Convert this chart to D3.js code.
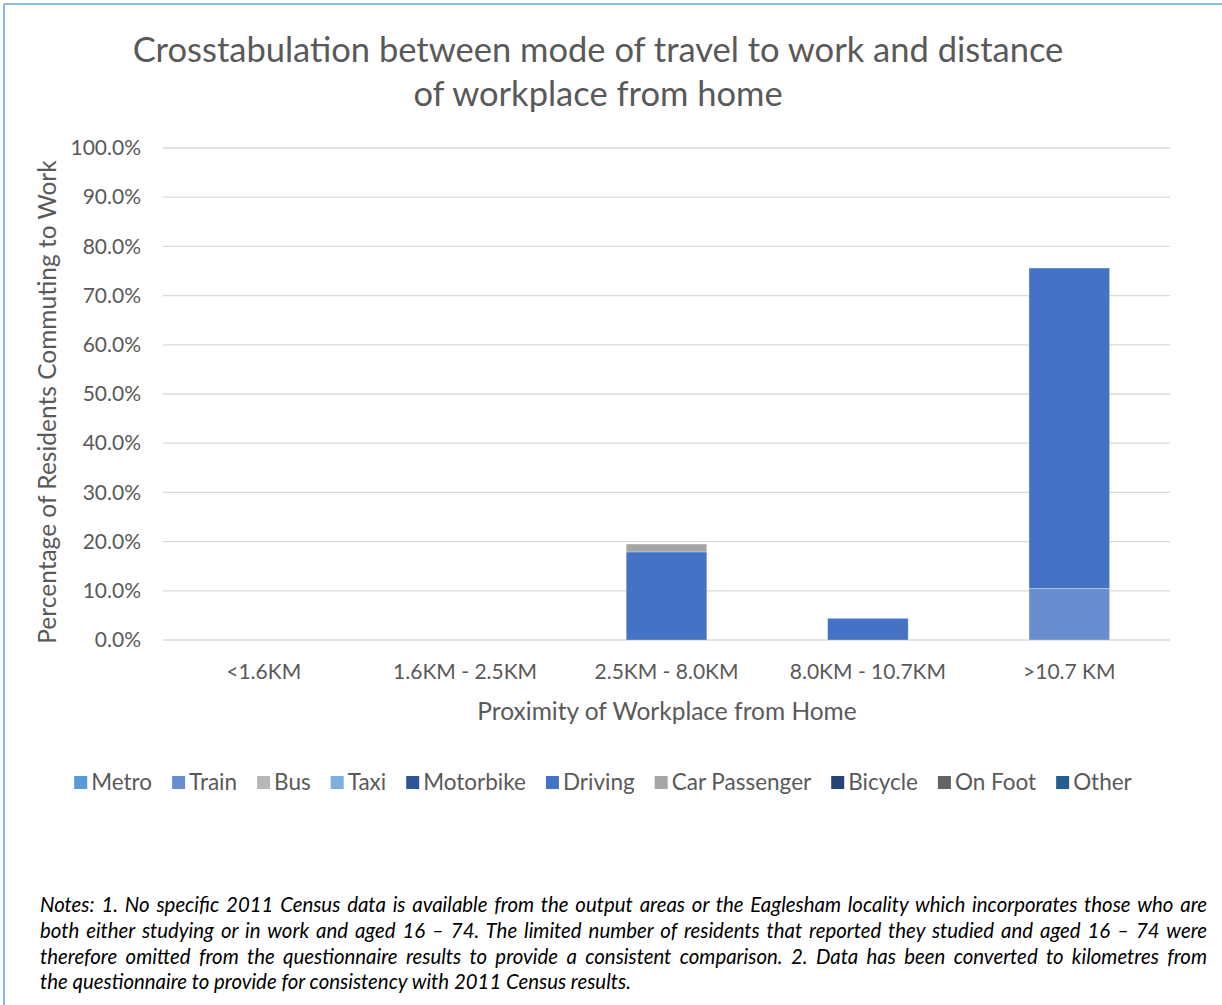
<!DOCTYPE html>
<html>
<head>
<meta charset="utf-8">
<script src="https://cdn.jsdelivr.net/npm/d3@7"></script>
<style>
  html, body { margin: 0; padding: 0; background: #fff; }
  #wrap { position: relative; width: 1222px; height: 1005px; overflow: hidden; }
  svg { position: absolute; left: 0; top: 0; }
  #notes { position: absolute; left: 40px; top: 892px; width: 1167px;
           font-family: Lato, "Open Sans", sans-serif; font-style: italic;
           font-size: 20.4px; color: #000; }
  #notes div { height: 25.8px; line-height: 25.8px; white-space: nowrap; text-align: left; }
  #notes div.j { text-align: justify; text-align-last: justify; }
</style>
</head>
<body>
<div id="wrap"></div>
<script>
// Distance bands and travel modes
const categories = ["<1.6KM", "1.6KM - 2.5KM", "2.5KM - 8.0KM", "8.0KM - 10.7KM", ">10.7 KM"];
const modes = ["Metro", "Train", "Bus", "Taxi", "Motorbike", "Driving", "Car Passenger", "Bicycle", "On Foot", "Other"];
const modeColors = ["#5B9BD5", "#698ED0", "#B7B7B7", "#7CAFDD", "#2F5597", "#4472C4", "#A5A5A5", "#264478", "#636363", "#255E91"];

// Percentage of residents per mode, one value per distance band
const metro        = [0, 0, 0, 0, 0];
const train        = [0, 0, 0, 0, 10.5];
const bus          = [0, 0, 0, 0, 0];
const taxi         = [0, 0, 0, 0, 0];
const motorbike    = [0, 0, 0, 0, 0];
const driving      = [0, 0, 17.9, 4.4, 65.1];
const carPassenger = [0, 0, 1.6, 0, 0];
const bicycle      = [0, 0, 0, 0, 0];
const onFoot       = [0, 0, 0, 0, 0];
const other        = [0, 0, 0, 0, 0];

const yTicks = [0, 10, 20, 30, 40, 50, 60, 70, 80, 90, 100];

const titleLines = ["Crosstabulation between mode of travel to work and distance", "of workplace from home"];
const noteLines = [
  "Notes: 1. No specific 2011 Census data is available from the output areas or the Eaglesham locality which incorporates those who are",
  "both either studying or in work and aged 16 \u2013 74. The limited number of residents that reported they studied and aged 16 \u2013 74 were",
  "therefore omitted from the questionnaire results to provide a consistent comparison. 2. Data has been converted to kilometres from",
  "the questionnaire to provide for consistency with 2011 Census results."
];

const seriesValues = [metro, train, bus, taxi, motorbike, driving, carPassenger, bicycle, onFoot, other];
const table = categories.map((c, i) => {
  const row = { category: c };
  modes.forEach((m, k) => { row[m] = seriesValues[k][i]; });
  return row;
});

const W = 1222, H = 1005;
const font = "Lato, 'Open Sans', sans-serif";
const textGrey = "#595959";

const wrap = d3.select("#wrap");
const svg = wrap.append("svg").attr("width", W).attr("height", H);

// chart frame (top and left edges visible)
svg.append("line").attr("x1", 4).attr("y1", 4).attr("x2", W).attr("y2", 4)
  .attr("stroke", "#6FA8DC").attr("stroke-width", 1.6);
svg.append("line").attr("x1", 4).attr("y1", 4).attr("x2", 4).attr("y2", H)
  .attr("stroke", "#6FA8DC").attr("stroke-width", 1.6);

const plot = { left: 163, right: 1170, top: 148, bottom: 640 };

const x = d3.scaleBand().domain(categories).range([plot.left, plot.right])
  .paddingInner(0.6).paddingOuter(0.3);
const y = d3.scaleLinear().domain([0, 100]).range([plot.bottom, plot.top]);

// gridlines
svg.append("g").selectAll("line").data(yTicks).join("line")
  .attr("x1", plot.left).attr("x2", plot.right)
  .attr("y1", d => y(d)).attr("y2", d => y(d))
  .attr("stroke", "#D9D9D9").attr("stroke-width", 1.3);

// y axis labels
const yAxis = d3.axisLeft(y).tickValues(yTicks).tickFormat(d => d3.format(".1f")(d) + "%").tickSize(0).tickPadding(22);
const gy = svg.append("g").attr("transform", `translate(${plot.left},0)`).call(yAxis);
gy.select(".domain").remove();
gy.selectAll("text").attr("font-family", font).attr("font-size", 21).attr("fill", textGrey);

// x axis labels
const xAxis = d3.axisBottom(x).tickSize(0).tickPadding(24);
const gx = svg.append("g").attr("transform", `translate(0,${plot.bottom})`).call(xAxis);
gx.select(".domain").remove();
gx.selectAll("text").attr("font-family", font).attr("font-size", 21).attr("fill", textGrey);

// stacked bars
const stack = d3.stack().keys(modes);
const layers = stack(table);
svg.append("g").selectAll("g").data(layers).join("g")
  .attr("fill", (d, i) => modeColors[i])
  .selectAll("rect").data(d => d.filter(p => p[1] - p[0] > 0)).join("rect")
  .attr("x", d => x(d.data.category))
  .attr("width", x.bandwidth())
  .attr("y", d => y(d[1]))
  .attr("height", d => y(d[0]) - y(d[1]))
  .attr("stroke", "#fff").attr("stroke-opacity", 0.35).attr("stroke-width", 0.8);

// title
svg.append("g").selectAll("text").data(titleLines).join("text")
  .attr("x", 598).attr("y", (d, i) => 62 + i * 44)
  .attr("text-anchor", "middle")
  .attr("font-family", font).attr("font-size", 34.5).attr("fill", textGrey)
  .text(d => d);

// axis titles
svg.append("text").attr("x", 667).attr("y", 720).attr("text-anchor", "middle")
  .attr("font-family", font).attr("font-size", 24.5).attr("fill", textGrey)
  .text("Proximity of Workplace from Home");
svg.append("text").attr("transform", "translate(56,402) rotate(-90)").attr("text-anchor", "middle")
  .attr("font-family", font).attr("font-size", 24.5).attr("fill", textGrey)
  .text("Percentage of Residents Commuting to Work");

// legend
const legend = svg.append("g");
const items = legend.selectAll("g").data(modes).join("g");
items.append("rect").attr("width", 13).attr("height", 13).attr("y", -14)
  .attr("fill", (d, i) => modeColors[i]);
items.append("text").attr("x", 17).attr("y", 0)
  .attr("font-family", font).attr("font-size", 22.5).attr("fill", textGrey)
  .text(d => d);
const legendGap = 20;
let cx = 0;
items.each(function () {
  const g = d3.select(this);
  g.attr("transform", `translate(${cx},0)`);
  cx += 17 + g.select("text").node().getComputedTextLength() + legendGap;
});
const legendWidth = cx - legendGap;
legend.attr("transform", `translate(${603 - legendWidth / 2},790)`);

// notes
const notes = wrap.append("div").attr("id", "notes");
notes.selectAll("div").data(noteLines).join("div")
  .attr("class", (d, i) => i < noteLines.length - 1 ? "j" : null)
  .text(d => d);
</script>
</body>
</html>
